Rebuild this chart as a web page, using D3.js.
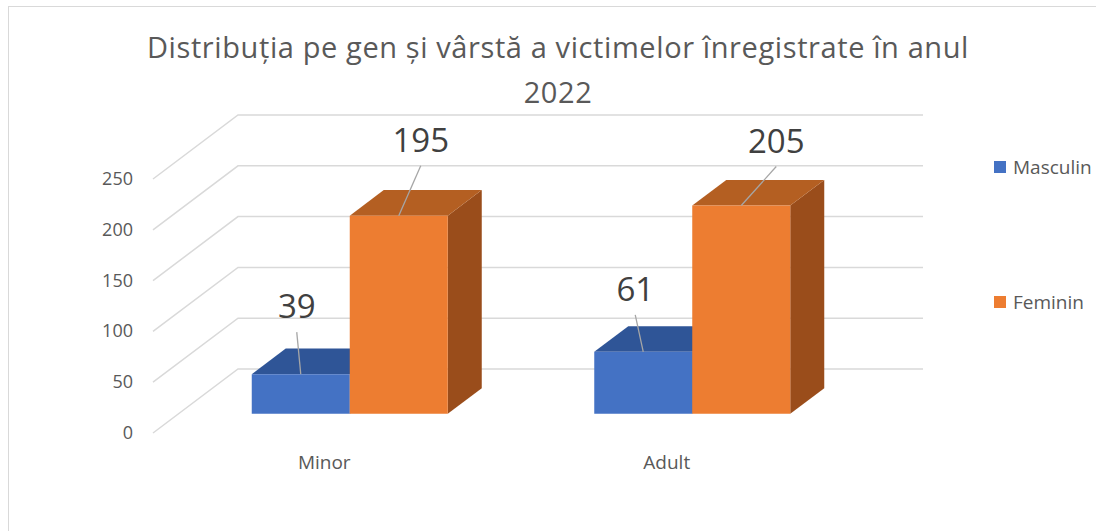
<!DOCTYPE html>
<meta charset="utf-8">
<html>
<head>
    <script src="https://cdn.jsdelivr.net/npm/d3@7"></script>
    <style>
        body { margin: 0; background: #fff; }
        text { font-family: "Open Sans", "Noto Sans", sans-serif; }
    </style>
</head>
<body>
    <script>
    var categories = ["Minor", "Adult"];
    var seriesNames = ["Masculin", "Feminin"];
    var masculin = [39, 61];
    var feminin = [195, 205];
    var yTicks = [0, 50, 100, 150, 200, 250];
    var title = ["Distribuția pe gen și vârstă a victimelor înregistrate în anul", "2022"];

    var colors = {
        Masculin: { front: "#4472c4", top: "#2f5597", side: "#2c4f8c" },
        Feminin: { front: "#ed7d31", top: "#b45f22", side: "#9a4d1b" }
    };
    // label nudges (dx, dy) from the bar's front-top centre, as dragged in the original
    var labelNudge = {
        Masculin: [[-4, -68], [-8, -63]],
        Feminin: [[22, -76], [35, -65]]
    };

    var values = { Masculin: masculin, Feminin: feminin };

    var svg = d3.select("body")
       .append("svg")
       .attr("width", 1096)
       .attr("height", 531);

    svg.append("rect")
       .attr("x", 8.5).attr("y", 6.5)
       .attr("width", 1100).attr("height", 540)
       .attr("fill", "#fff")
       .attr("stroke", "#d9d9d9");

    // depth of the 3D floor
    var DX = 85, DY = 64;

    var xScale = d3.scaleBand()
       .domain(categories)
       .range([153, 838]);

    var barW = 98;
    var subScale = d3.scaleBand()
       .domain(seriesNames)
       .range([0, barW * 2]);

    var yScale = d3.scaleLinear()
       .domain([0, 250])
       .range([433, 179]);

    function proj(x, v, z) {
        return [x + z * DX, yScale(v) - z * DY];
    }

    // gridlines: side wall diagonal then back wall
    var grid = svg.append("g");
    yTicks.forEach(function(t) {
        var a = proj(153, t, 0), b = proj(153, t, 1), c = proj(838, t, 1);
        grid.append("path")
           .attr("d", "M" + a + "L" + b + "L" + c)
           .attr("fill", "none")
           .attr("stroke", "#d9d9d9")
           .attr("stroke-width", 1.5);
    });

    svg.append("g").selectAll("text")
       .data(yTicks)
       .enter()
       .append("text")
       .attr("x", 133)
       .attr("y", function(d) { return yScale(d) + 6; })
       .attr("text-anchor", "end")
       .attr("font-size", 18)
       .attr("fill", "#595959")
       .text(function(d) { return d; });

    svg.append("g").selectAll("text")
       .data(categories)
       .enter()
       .append("text")
       .attr("x", function(d) { return xScale(d) + xScale.bandwidth() / 2; })
       .attr("y", 469)
       .attr("text-anchor", "middle")
       .attr("font-size", 19)
       .attr("fill", "#595959")
       .text(function(d) { return d; });

    var z0 = 0.3, z1 = 0.7;
    var bars = svg.append("g");
    var labels = svg.append("g");

    seriesNames.forEach(function(s) {
        categories.forEach(function(c, i) {
            var v = values[s][i];
            var x0 = xScale(c) + (xScale.bandwidth() - barW * 2) / 2 + subScale(s);
            var x1 = x0 + barW;
            var fbl = proj(x0, 0, z0), fbr = proj(x1, 0, z0),
                ftl = proj(x0, v, z0), ftr = proj(x1, v, z0),
                btl = proj(x0, v, z1), btr = proj(x1, v, z1),
                bbr = proj(x1, 0, z1);
            var col = colors[s];
            bars.append("path")
               .attr("d", "M" + fbr + "L" + bbr + "L" + btr + "L" + ftr + "Z")
               .attr("fill", col.side);
            bars.append("path")
               .attr("d", "M" + ftl + "L" + ftr + "L" + btr + "L" + btl + "Z")
               .attr("fill", col.top);
            bars.append("path")
               .attr("d", "M" + fbl + "L" + fbr + "L" + ftr + "L" + ftl + "Z")
               .attr("fill", col.front);

            var cx = (ftl[0] + ftr[0]) / 2, cy = ftl[1];
            var n = labelNudge[s][i];
            var lx = cx + n[0], ly = cy + n[1];
            labels.append("line")
               .attr("x1", lx).attr("y1", ly + 26)
               .attr("x2", cx).attr("y2", cy)
               .attr("stroke", "#a6a6a6")
               .attr("stroke-width", 1.3);
            labels.append("text")
               .attr("x", lx)
               .attr("y", ly + 12)
               .attr("text-anchor", "middle")
               .attr("font-size", 33)
               .attr("fill", "#404040")
               .text(v);
        });
    });

    // legend
    var legend = svg.append("g");
    var legendY = [167, 302];
    seriesNames.forEach(function(s, i) {
        legend.append("rect")
           .attr("x", 994).attr("y", legendY[i] - 6)
           .attr("width", 12).attr("height", 12)
           .attr("fill", colors[s].front);
        legend.append("text")
           .attr("x", 1013).attr("y", legendY[i] + 7)
           .attr("font-size", 19)
           .attr("fill", "#595959")
           .text(s);
    });

    svg.append("g").selectAll("text")
       .data(title)
       .enter()
       .append("text")
       .attr("x", 558)
       .attr("y", function(d, i) { return 58 + i * 45; })
       .attr("text-anchor", "middle")
       .attr("font-size", 29)
       .attr("letter-spacing", 0.6)
       .attr("fill", "#595959")
       .text(function(d) { return d; });
    </script>
</body>
</html>
